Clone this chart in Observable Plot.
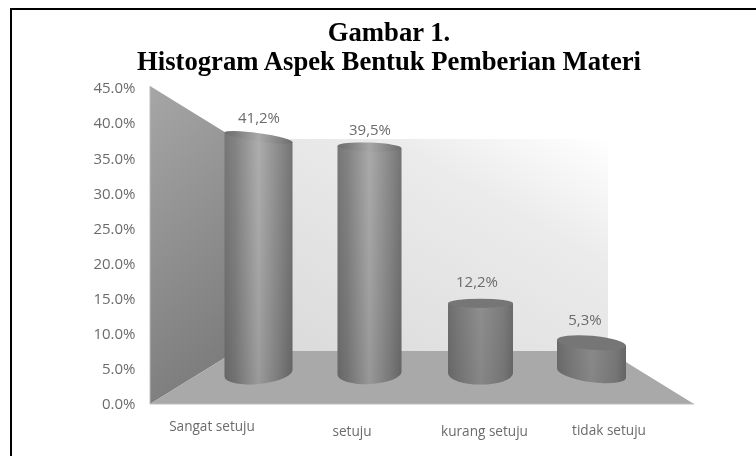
<!DOCTYPE html>
<html>
<head>
<meta charset="utf-8">
<script src="https://cdn.jsdelivr.net/npm/d3@7"></script>
<script src="https://cdn.jsdelivr.net/npm/@observablehq/plot@0.6"></script>
<style>
  html, body { margin: 0; padding: 0; background: #fff; width: 756px; height: 456px; overflow: hidden; }
  #frame { position: absolute; left: 10px; top: 8px; width: 746px; height: 448px; border-top: 2.5px solid #000; border-left: 2.5px solid #000; box-sizing: border-box; }
  #title { position: relative; height: 80px; box-sizing: border-box; padding-top: 18px; width: 778px; text-align: center; font: bold 26.7px/29px "Liberation Serif", serif; color: #000; filter: blur(0.3px); white-space: nowrap; }
  #chart svg { display: block; filter: blur(0.45px); }
</style>
</head>
<body>
<div id="frame"></div>
<div id="title">Gambar 1.<br>Histogram Aspek Bentuk Pemberian Materi</div>
<div id="chart"></div>
<script>
const categories = ["Sangat setuju", "setuju", "kurang setuju", "tidak setuju"];
const values = [41.2, 39.5, 12.2, 5.3];
const valueLabels = ["41,2%", "39,5%", "12,2%", "5,3%"];
const yTicks = [0, 5, 10, 15, 20, 25, 30, 35, 40, 45];

// 3-D look of the original: each depth plane has its own offset and foreshortening
const midPlane = v => 4.4 + 0.815 * v;
const backPlane = v => 7.55 + 0.671 * v;
const depth = { dx: 86, dy: 53 };
const look = [
  { w: 68, topRy: 4.2, topTilt: 8, baseRy: 11, baseTilt: -6, mid: "#a9a9a9", topFill: "url(#cyl0)", labelDx: 0, labelDy: -20 },
  { w: 64, topRy: 4.5, topTilt: 2, baseRy: 11, baseTilt: -3, mid: "#a6a6a6", topFill: "url(#cyl1)", labelDx: 0, labelDy: -17 },
  { w: 65, topRy: 4.6, topTilt: 0, baseRy: 11.5, baseTilt: 0, mid: "#939393", topFill: "#767676", labelDx: -4, labelDy: -22 },
  { w: 69, topRy: 7, topTilt: 5, baseRy: 9, baseTilt: 8, mid: "#929292", topFill: "#767676", labelDx: -7, labelDy: -23 }
];
const catLabel = [ { dx: -47, dy: 22 }, { dx: -18, dy: 27 }, { dx: 3.5, dy: 27 }, { dx: 17, dy: 26 } ];

const rows = categories.map((c, i) => ({ category: c, value: values[i], label: valueLabels[i], i }));
const axisColor = "#6b6b6b";
const axisFont = "Open Sans";

function svgEl(name, attrs) {
  const e = document.createElementNS("http://www.w3.org/2000/svg", name);
  for (const k in attrs) e.setAttribute(k, attrs[k]);
  return e;
}
function poly(points, fill) {
  return svgEl("path", { d: "M" + points.map(p => p.join(",")).join("L") + "Z", fill });
}

// Walls and floor, placed from the y scale and the plot frame
function room(index, scales, channels, dims) {
  const g = svgEl("g", {});
  const L = dims.marginLeft, R = dims.width - dims.marginRight;
  const y0 = scales.y(0), yTop = scales.y(45) - 2;
  const by0 = scales.y(backPlane(0)), byT = scales.y(backPlane(45));
  const defs = svgEl("defs", {});
  defs.innerHTML = `
    <linearGradient id="wallL" x1="0" y1="0" x2="0.25" y2="1"><stop offset="0" stop-color="#a6a6a6"/><stop offset="1" stop-color="#7d7d7d"/></linearGradient>
    <linearGradient id="wallB" x1="0" y1="1" x2="1" y2="0"><stop offset="0" stop-color="#d9d9d9"/><stop offset="0.7" stop-color="#ebebeb"/><stop offset="1" stop-color="#ffffff"/></linearGradient>
    ${look.map((l, i) => `<linearGradient id="cyl${i}" x1="0" x2="1" y1="0" y2="0">
      <stop offset="0" stop-color="#6f6f6f"/><stop offset="0.15" stop-color="#7b7b7b"/><stop offset="0.5" stop-color="${l.mid}"/><stop offset="0.85" stop-color="#7f7f7f"/><stop offset="1" stop-color="#6c6c6c"/></linearGradient>`).join("")}
    <linearGradient id="cylShade" gradientUnits="userSpaceOnUse" x1="0" x2="0" y1="${scales.y(42)}" y2="${y0}"><stop offset="0" stop-color="#fff" stop-opacity="0.06"/><stop offset="1" stop-color="#000" stop-opacity="0.1"/></linearGradient>`;
  g.append(defs);
  g.append(poly([[L + depth.dx, byT], [R - depth.dx, byT], [R - depth.dx, by0], [L + depth.dx, by0]], "url(#wallB)"));
  g.append(poly([[L, yTop], [L + depth.dx, byT], [L + depth.dx, by0], [L, y0]], "url(#wallL)"));
  g.append(poly([[L, y0], [L + depth.dx, by0], [R - depth.dx, by0], [R, y0]], "#a9a9a9"));
  g.append(svgEl("path", { d: `M${L},${yTop}V${y0}H${R}`, fill: "none", stroke: "#bdbdbd", "stroke-width": 1 }));
  return g;
}

// Turns each bar into a cylinder of the same band and value
function cylinder(index, scales, vals, dims, ctx, next) {
  const g = next(index, scales, vals, dims, ctx);
  const bars = [...g.querySelectorAll("rect")];
  bars.forEach((r, k) => {
    const l = look[index[k]];
    const cx = +r.getAttribute("x") + +r.getAttribute("width") / 2;
    const yT = +r.getAttribute("y"), yB = yT + +r.getAttribute("height");
    const rx = l.w / 2;
    const a = Math.tan(l.topTilt * Math.PI / 180) * rx, b = Math.tan(l.baseTilt * Math.PI / 180) * rx;
    const x0 = cx - rx, x1 = cx + rx;
    const body = `M${x0},${yT - a}L${x0},${yB - b}A${rx / Math.cos(l.baseTilt * Math.PI / 180)},${l.baseRy},${l.baseTilt},0,0,${x1},${yB + b}L${x1},${yT + a}Z`;
    const top = svgEl("ellipse", { cx: 0, cy: 0, rx: rx / Math.cos(l.topTilt * Math.PI / 180), ry: l.topRy, fill: l.topFill,
      transform: `translate(${cx},${yT}) rotate(${l.topTilt})` });
    r.replaceWith(
      svgEl("path", { d: body, fill: `url(#cyl${index[k]})` }),
      svgEl("path", { d: body, fill: "url(#cylShade)" }),
      top
    );
  });
  return g;
}

const plot = Plot.plot({
  width: 756,
  height: 376,
  marginLeft: 150,
  marginRight: 62,
  marginTop: 8,
  marginBottom: 52,
  style: { background: "transparent", overflow: "visible" },
  x: { type: "band", domain: categories, range: [181, 669.5], padding: 0.4, axis: null },
  y: { domain: [0, 45], axis: null },
  marks: [
    room,
    Plot.barY(rows, {
      x: "category",
      y1: midPlane(0),
      y2: d => midPlane(d.value),
      fill: "#888",
      render: cylinder
    }),
    Plot.axisY({
      ticks: yTicks,
      tickSize: 0,
      tickPadding: 15,
      label: null,
      tickFormat: d => d.toFixed(1) + "%",
      fontSize: 15,
      fontFamily: axisFont,
      color: axisColor,
      fill: axisColor
    }),
    rows.map(d => Plot.text([d], {
      x: "category",
      y: v => midPlane(v.value),
      text: "label",
      dx: look[d.i].labelDx,
      dy: look[d.i].labelDy,
      fontSize: 15,
      fontFamily: axisFont,
      fill: axisColor
    })),
    rows.map(d => Plot.text([d], {
      x: "category",
      y: () => 0,
      text: "category",
      dx: catLabel[d.i].dx,
      dy: catLabel[d.i].dy,
      fontSize: 13.6,
      fontFamily: axisFont,
      fill: axisColor
    }))
  ]
});
document.getElementById("chart").append(plot);
</script>
</body>
</html>
